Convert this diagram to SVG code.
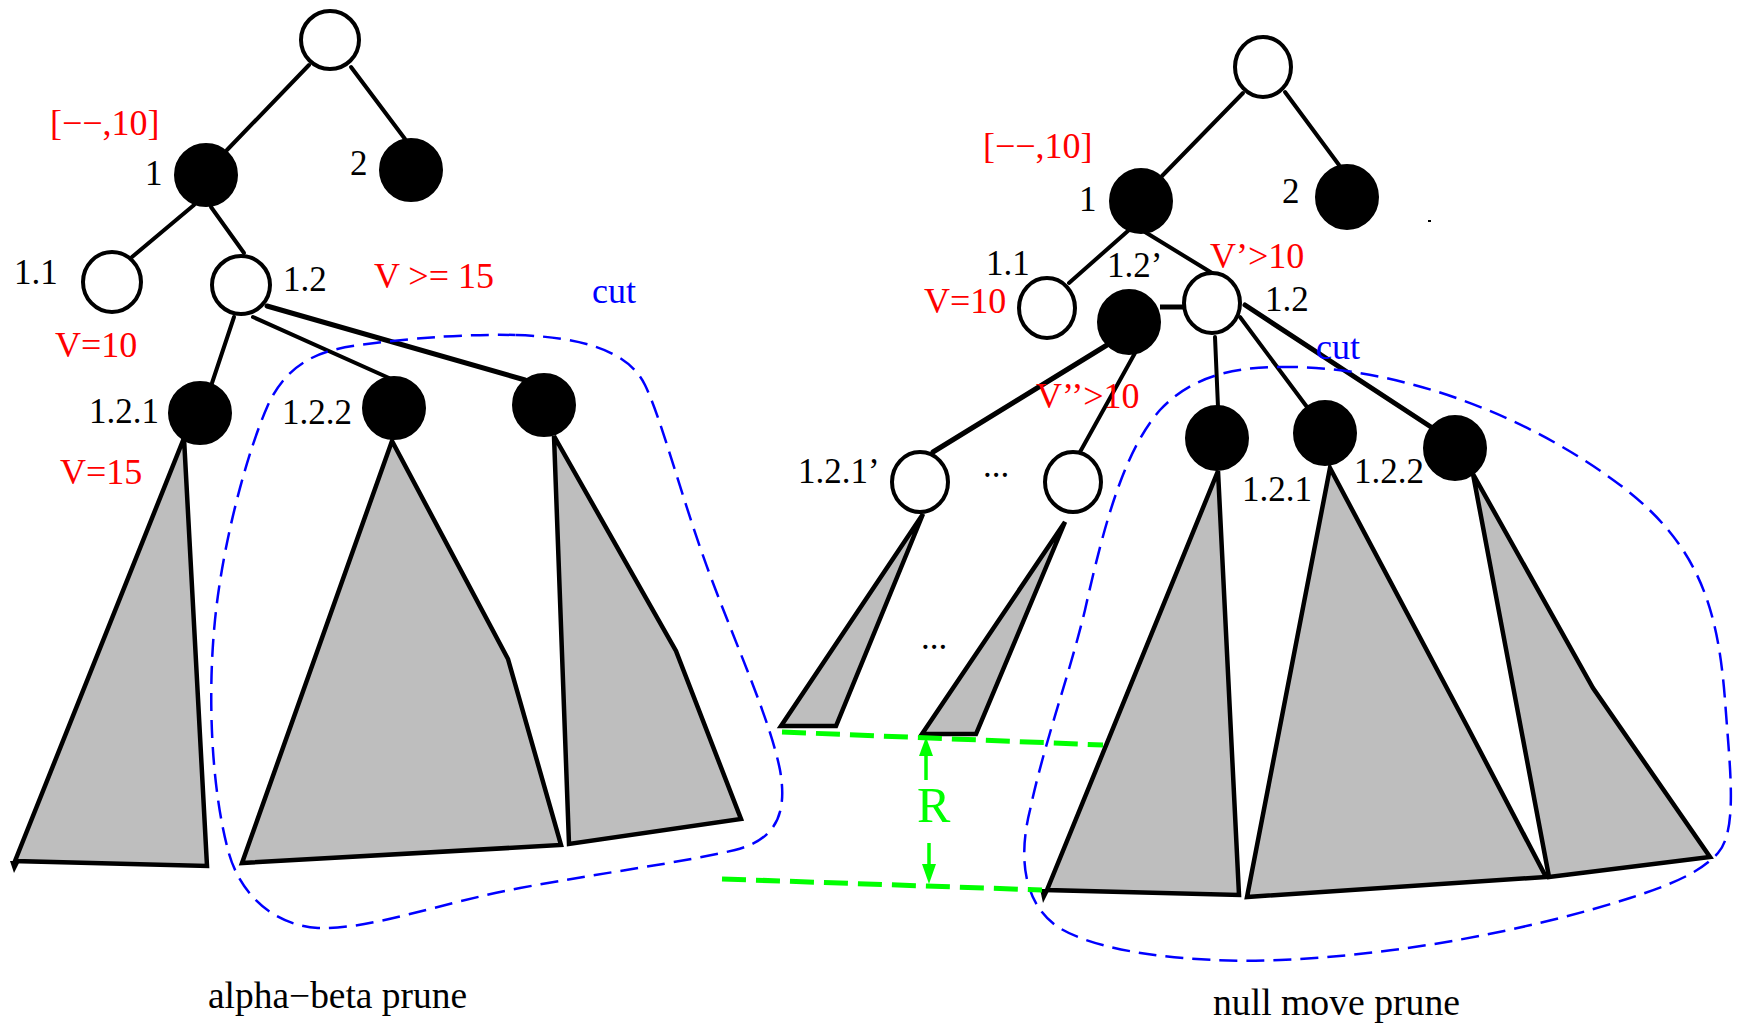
<svg xmlns="http://www.w3.org/2000/svg" width="1739" height="1025" viewBox="0 0 1739 1025">
<style>
.w{fill:#fff;stroke:#000;stroke-width:4}
.b{fill:#000;stroke:#000;stroke-width:2}
.e{stroke:#000;stroke-width:4;fill:none;stroke-linecap:round}
.e2{stroke-width:5}
.t{fill:#bebebe;stroke:#000;stroke-width:4.5;stroke-linejoin:miter}
.cut{fill:none;stroke:#0000ff;stroke-width:2.5;stroke-dasharray:18 9}
.g{stroke:#00ff00;stroke-width:5;stroke-dasharray:24 10;fill:none}
.ga{stroke:#00ff00;stroke-width:3.5;fill:none}
.gh{fill:#00ff00}
text{font-family:"Liberation Serif","Times New Roman",serif;font-size:36px}
.k{fill:#000;font-size:35px}
.r{fill:#ff0000}
.bl{fill:#0000ff}
.cap{fill:#000;font-size:37px}
</style>

<g id="connectors">
  <!-- left tree -->
  <line class="e" x1="309" y1="65" x2="227" y2="150"/>
  <line class="e" x1="351" y1="67" x2="405" y2="139"/>
  <line class="e" x1="194" y1="205" x2="132" y2="257"/>
  <line class="e" x1="211" y1="207" x2="244" y2="253"/>
  <line class="e" x1="234" y1="317" x2="212" y2="383"/>
  <line class="e" x1="253" y1="317" x2="389" y2="378"/>
  <line class="e e2" x1="267" y1="306" x2="525" y2="380"/>
  <!-- right tree -->
  <line class="e" x1="1243" y1="93" x2="1162" y2="176"/>
  <line class="e" x1="1285" y1="92" x2="1339" y2="165"/>
  <line class="e" x1="1129" y1="230" x2="1069" y2="283"/>
  <line class="e" x1="1145" y1="232" x2="1212" y2="273"/>
  <line class="e e2" x1="1160" y1="307" x2="1184" y2="307" style="stroke-linecap:butt"/>
  <line class="e e2" x1="1107" y1="345" x2="933" y2="452"/>
  <line class="e" x1="1135" y1="353" x2="1080" y2="452"/>
  <line class="e" x1="1215" y1="337" x2="1218" y2="407"/>
  <line class="e" x1="1240" y1="317" x2="1307" y2="407"/>
  <line class="e e2" x1="1245" y1="305" x2="1431" y2="427"/>
</g>

<g id="subtrees">
  <polygon class="t" points="184,438 15,861 207,866"/>
  <polygon points="10,861 20,861 14,873" fill="#000"/>
  <polygon class="t" points="392,441 508,659 561,845 242,863"/>
  <polygon class="t" points="554,436 676,651 741,819 569,844"/>
  <polygon class="t" points="923,514 781,726 836,726"/>
  <polygon class="t" points="1065,522 922,734 976,734"/>
  <polygon class="t" points="1218,471 1047,890 1239,895"/>
  <polygon points="1040,889 1050,889 1043,903" fill="#000"/>
  <polygon class="t" points="1330,468 1467,726 1546,877 1247,897"/>
  <polygon class="t" points="1473,474 1593,688 1710,857 1549,877"/>
</g>

<g id="node-L-root"><ellipse class="w" cx="330" cy="40" rx="29" ry="29"/></g>
<g id="node-L-1"><ellipse class="b" cx="206" cy="175" rx="31" ry="31"/></g>
<g id="node-L-2"><ellipse class="b" cx="411" cy="170" rx="31" ry="31"/></g>
<g id="node-L-1.1"><ellipse class="w" cx="112" cy="282" rx="29" ry="30"/></g>
<g id="node-L-1.2"><ellipse class="w" cx="241" cy="285" rx="29" ry="29"/></g>
<g id="node-L-1.2.1"><ellipse class="b" cx="200" cy="413" rx="31" ry="31"/></g>
<g id="node-L-1.2.2"><ellipse class="b" cx="394" cy="408" rx="31" ry="31"/></g>
<g id="node-L-1.2.3"><ellipse class="b" cx="544" cy="405" rx="31" ry="31"/></g>

<g id="node-R-root"><ellipse class="w" cx="1263" cy="67" rx="28" ry="30"/></g>
<g id="node-R-1"><ellipse class="b" cx="1141" cy="201" rx="31" ry="32"/></g>
<g id="node-R-2"><ellipse class="b" cx="1347" cy="197" rx="31" ry="32"/></g>
<g id="node-R-1.1"><ellipse class="w" cx="1047" cy="308" rx="28" ry="30"/></g>
<g id="node-R-1.2p"><ellipse class="b" cx="1129" cy="322" rx="31" ry="32"/></g>
<g id="node-R-1.2"><ellipse class="w" cx="1212" cy="303" rx="28" ry="30"/></g>
<g id="node-R-1.2.1p"><ellipse class="w" cx="920" cy="482" rx="28" ry="30"/></g>
<g id="node-R-1.2.np"><ellipse class="w" cx="1073" cy="482" rx="28" ry="30"/></g>
<g id="node-R-A"><ellipse class="b" cx="1217" cy="438" rx="31" ry="32"/></g>
<g id="node-R-1.2.1"><ellipse class="b" cx="1325" cy="433" rx="31" ry="32"/></g>
<g id="node-R-1.2.2"><ellipse class="b" cx="1455" cy="448" rx="31" ry="32"/></g>

<g id="cut-regions">
  <path class="cut" d="M 516,335 C 580,337 628,350 645,385 C 662,420 682,500 710,575 C 738,650 770,720 780,770 C 788,815 775,840 735,850 C 680,863 600,873 520,888 C 440,903 370,930 318,928 C 270,925 238,890 228,850 C 212,790 207,700 215,620 C 223,540 248,450 268,405 C 288,362 320,350 360,345 C 420,337 470,334 516,335 Z"/>
  <path class="cut" d="M 1280,367 C 1390,365 1520,410 1620,485 C 1700,545 1718,610 1725,700 C 1730,770 1738,830 1718,853 C 1700,873 1670,885 1630,898 C 1530,930 1400,955 1280,960 C 1180,964 1090,950 1055,925 C 1020,898 1020,850 1030,810 C 1045,740 1068,680 1085,610 C 1105,520 1125,450 1160,410 C 1190,378 1230,367 1280,367 Z"/>
</g>

<g id="depth-R">
  <line class="g" x1="782" y1="732" x2="1103" y2="745"/>
  <line class="g" x1="722" y1="879" x2="1042" y2="890"/>
  <line class="ga" x1="926" y1="752" x2="926" y2="780"/>
  <polygon class="gh" points="926,737 919,756 933,756"/>
  <line class="ga" x1="929" y1="843" x2="929" y2="868"/>
  <polygon class="gh" points="929,884 922,864 936,864"/>
  <text x="917" y="822" style="fill:#00ff00;font-size:50px">R</text>
</g>

<g id="labels">
  <text class="r" x="50" y="135">[−−,10]</text>
  <text class="k" x="145" y="185">1</text>
  <text class="k" x="350" y="175">2</text>
  <text class="k" x="14" y="284">1.1</text>
  <text class="k" x="283" y="291">1.2</text>
  <text class="r" x="374" y="288">V &gt;= 15</text>
  <text class="bl" x="592" y="303">cut</text>
  <text class="r" x="55" y="357">V=10</text>
  <text class="k" x="89" y="423">1.2.1</text>
  <text class="k" x="282" y="424">1.2.2</text>
  <text class="r" x="60" y="484">V=15</text>
  <text class="cap" x="208" y="1008" textLength="259" lengthAdjust="spacingAndGlyphs">alpha−beta prune</text>

  <text class="r" x="983" y="158">[−−,10]</text>
  <text class="k" x="1079" y="211">1</text>
  <text class="k" x="1282" y="203">2</text>
  <rect x="1428" y="220" width="3" height="2" fill="#000"/>
  <text class="k" x="986" y="275">1.1</text>
  <text class="k" x="1107" y="277">1.2’</text>
  <text class="r" x="1210" y="268">V’&gt;10</text>
  <text class="r" x="924" y="313">V=10</text>
  <text class="k" x="1265" y="311">1.2</text>
  <text class="bl" x="1316" y="359">cut</text>
  <text class="r" x="1036" y="408">V’’&gt;10</text>
  <text class="k" x="798" y="483">1.2.1’</text>
  <text class="k" x="983" y="477">...</text>
  <text class="k" x="1242" y="501">1.2.1</text>
  <text class="k" x="1354" y="483">1.2.2</text>
  <text class="k" x="921" y="649">...</text>
  <text class="cap" x="1213" y="1015" textLength="247" lengthAdjust="spacingAndGlyphs">null move prune</text>
</g>
</svg>
